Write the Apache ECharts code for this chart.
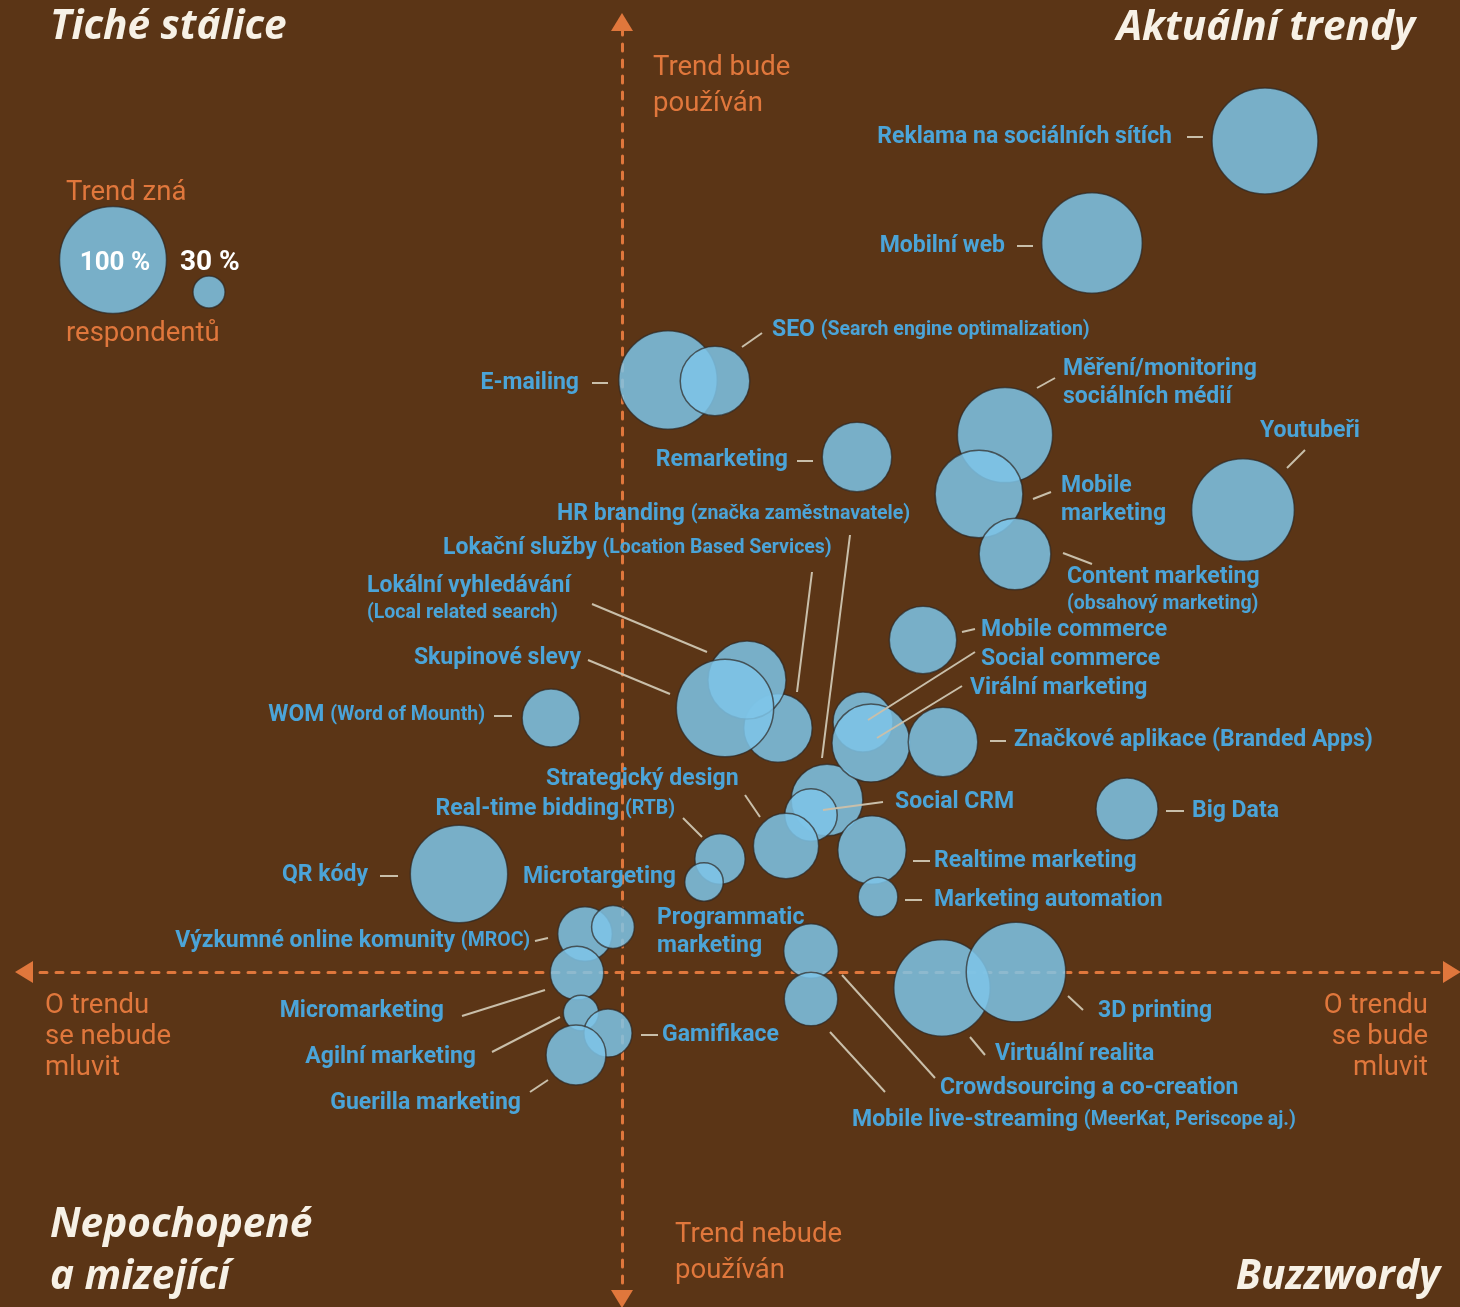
<!DOCTYPE html>
<html><head><meta charset="utf-8">
<script src="https://cdn.jsdelivr.net/npm/echarts@6/dist/echarts.min.js"></script>
<style>html,body{margin:0;padding:0;background:#5b3516;}#c{width:1460px;height:1307px;}</style>
</head><body><div id="c"></div>
<script>
// ---- DATA ----
const trends = ['Reklama na sociálních sítích','Mobilní web','E-mailing','SEO','Remarketing','Měření/monitoring sociálních médií','Mobile marketing','Content marketing','Youtubeři','HR branding','Lokační služby','Lokální vyhledávání','Skupinové slevy','WOM','Mobile commerce','Social commerce','Virální marketing','Značkové aplikace','Big Data','Social CRM','Strategický design','Real-time bidding','Microtargeting','Realtime marketing','Marketing automation','QR kódy','Výzkumné online komunity','Programmatic marketing','Micromarketing','Agilní marketing','Gamifikace','Guerilla marketing','Crowdsourcing a co-creation','Mobile live-streaming','Virtuální realita','3D printing'];
// x: how much the trend will be talked about (0 = neutral)
const buzz  = [64.3,47.0,4.6,9.3,23.5,38.3,35.7,39.3,62.1,20.5,15.6,12.5,10.3,-7.1,30.1,24.1,24.9,32.1,50.5,18.9,16.4,9.8,8.2,25.0,25.6,-16.3,-3.7,-0.9,-4.5,-4.1,-1.4,-4.6,18.9,18.9,32.0,39.4];
// y: how much the trend will be used (0 = neutral)
const usage = [83.1,72.9,59.2,59.1,51.5,53.7,47.8,41.8,46.2,17.2,24.4,29.2,26.4,25.4,33.2,25.0,22.9,23.0,16.3,15.7,12.6,11.3,9.0,12.2,7.5,9.8,3.8,4.5,-0.1,-4.1,-6.1,-8.3,2.1,-2.7,-1.6,0.0];
// % of respondents who know the trend
const awareness = [99,94,92,65,65,89,82,67,96,67,64,73,91,54,63,56,73,65,58,49,61,47,36,64,37,91,51,40,50,33,45,56,51,50,90,93];
const legendValues = [100, 30];
const labelText = [
 'Reklama na sociálních sítích','Mobilní web','E-mailing','SEO {s|(Search engine optimalization)}','Remarketing',
 'Měření/monitoring\nsociálních médií','Mobile\nmarketing','Content marketing\n{s|(obsahový marketing)}','Youtubeři',
 'HR branding {s|(značka zaměstnavatele)}','Lokační služby {s|(Location Based Services)}','Lokální vyhledávání\n{s|(Local related search)}',
 'Skupinové slevy','WOM {s|(Word of Mounth)}','Mobile commerce','Social commerce','Virální marketing','Značkové aplikace (Branded Apps)',
 'Big Data','Social CRM','Strategický design','Real-time bidding {s|(RTB)}','Microtargeting','Realtime marketing','Marketing automation',
 'QR kódy','Výzkumné online komunity {s|(MROC)}','Programmatic\nmarketing','Micromarketing','Agilní marketing','Gamifikace',
 'Guerilla marketing','Crowdsourcing a co-creation','Mobile live-streaming {s|(MeerKat, Periscope aj.)}','Virtuální realita','3D printing'];

// ---- label placement (pixel offsets from bubble centre: align, dx, dy, leader line) ----
const labelPlacement = [
 ['right',-93,-4,[-78,-4,-62,-4]],
 ['right',-87,3,[-75,3,-59,3]],
 ['right',-89,3,[-76,3,-60,3]],
 ['left',57,-51,[27,-34,47,-48]],
 ['right',-69,3,[-60,4,-44,4]],
 ['left',58,-52,[32,-47,50,-57]],
 ['left',82,6,[54,5,72,-2]],
 ['left',52,36,[48,-1,77,10]],
 ['left',17,-79,[44,-42,62,-60]],
 ['left',-270,-286,[23,-265,-5,-42]],
 ['left',-335,-180,[34,-156,19,-36]],
 ['left',-380,-81,[-155,-76,-40,-28]],
 ['right',-144,-50,[-137,-48,-55,-14]],
 ['right',-66,-3,[-57,-2,-39,-2]],
 ['left',58,-10,[39,-8,52,-11]],
 ['left',118,-63,[5,-2,112,-70]],
 ['left',99,-55,[6,-5,91,-57]],
 ['left',71,-2,[47,-1,63,-1]],
 ['left',65,2,[39,2,57,2]],
 ['left',84,-13,[12,-5,72,-13]],
 ['left',-240,-67,[-41,-51,-26,-29]],
 ['right',-45,-50,[-37,-41,-18,-22]],
 ['right',-28,-5,null],
 ['left',62,11,[41,11,58,11]],
 ['left',56,3,[27,3,44,3]],
 ['right',-91,1,[-79,2,-61,2]],
 ['right',-55,7,[-50,7,-37,4]],
 ['left',44,5,null],
 ['right',-133,38,[-115,43,-32,17]],
 ['right',-105,44,[-89,39,-21,4]],
 ['left',54,2,[33,2,50,2]],
 ['right',-55,48,[-46,37,-28,25]],
 ['left',129,137,[31,24,124,127]],
 ['left',41,121,[19,33,74,93]],
 ['left',53,66,[28,49,43,67]],
 ['left',82,39,[52,24,67,38]]
];

const BG = '#5b3516', BLUE_TXT = '#4ba4d8', ORANGE = '#e0773c', LEADER = '#c9bfaa';
const BUBBLE = 'rgba(126,196,232,0.85)', BORDER = 'rgba(45,40,35,0.7)';
const SIZE_K = 1.07;
const FONT = 'Roboto';

const chart = echarts.init(document.getElementById('c'));
const pts = trends.map((n,i)=>[buzz[i], usage[i], awareness[i], n]);
const axisStyle = {show:true, onZero:true, symbol:['triangle','triangle'], symbolSize:[22,18],
  lineStyle:{color:ORANGE, width:3, type:[7,9]}};

function txt(text, x, y, opt){
  return Object.assign({type:'text', x:x, y:y, z:10, style:Object.assign({text:text, fill:ORANGE, fontFamily:FONT, fontSize:27.5, verticalAlign:'middle', align:'left', lineHeight:33}, opt||{})});
}
const title = {fill:'#f7f1e6', fontSize:40.5, fontWeight:'bold', fontStyle:'italic', fontFamily:'Open Sans', lineHeight:52};

chart.setOption({
  backgroundColor: BG,
  animation:false,
  grid:{left:24, right:8, top:22, bottom:8},
  xAxis:{type:'value', min:-59.8, max:83.0, axisLine:axisStyle, axisTick:{show:false}, axisLabel:{show:false}, splitLine:{show:false}},
  yAxis:{type:'value', min:-32.7, max:95.0, axisLine:axisStyle, axisTick:{show:false}, axisLabel:{show:false}, splitLine:{show:false}},
  series:[
    {type:'scatter', data:pts, z:2,
     symbolSize:v=>v[2]*SIZE_K,
     itemStyle:{color:BUBBLE, borderColor:BORDER, borderWidth:1.5, opacity:1}},
    {type:'custom', data:pts, z:3, clip:false, silent:true,
     renderItem:function(params, api){
       const i = params.dataIndex;
       const c = api.coord([api.value(0), api.value(1)]);
       const p = labelPlacement[i];
       const ch = [];
       if(p[3]) ch.push({type:'line', shape:{x1:c[0]+p[3][0], y1:c[1]+p[3][1], x2:c[0]+p[3][2], y2:c[1]+p[3][3]}, style:{stroke:LEADER, lineWidth:2}});
       ch.push({type:'text', x:c[0]+p[1], y:c[1]+p[2], style:{text:labelText[i], fill:BLUE_TXT, fontFamily:FONT, fontWeight:'bold', fontSize:23, align:p[0], verticalAlign:'middle', lineHeight:28,
         rich:{s:{fill:BLUE_TXT, fontFamily:FONT, fontWeight:'bold', fontSize:19.5, lineHeight:25}}}});
       return {type:'group', children:ch};
     }}
  ],
  graphic:[
    txt('Tiché stálice', 50, 27, title),
    txt('Aktuální trendy', 1415, 28, Object.assign({}, title, {align:'right'})),
    txt('Nepochopené\na mizející', 50, 1251, title),
    txt('Buzzwordy', 1440, 1277, Object.assign({}, title, {align:'right'})),
    txt('Trend bude\npoužíván', 653, 86, {lineHeight:36}),
    txt('Trend nebude\npoužíván', 675, 1253, {lineHeight:36}),
    txt('O trendu\nse nebude\nmluvit', 45, 1037, {lineHeight:31}),
    txt('O trendu\nse bude\nmluvit', 1428, 1037, {lineHeight:31, align:'right'}),
    txt('Trend zná', 66, 193),
    txt('respondentů', 66, 334),
    {type:'circle', shape:{cx:113, cy:260, r:legendValues[0]*SIZE_K/2}, style:{fill:BUBBLE, stroke:BORDER, lineWidth:1.5}, z:5},
    {type:'circle', shape:{cx:209, cy:292, r:legendValues[1]*SIZE_K/2}, style:{fill:BUBBLE, stroke:BORDER, lineWidth:1.5}, z:5},
    txt(legendValues[0]+' %', 115, 263, {fill:'#ffffff', fontWeight:'bold', align:'center', fontSize:26}),
    txt(legendValues[1]+' %', 180, 263, {fill:'#ffffff', fontWeight:'bold', fontSize:28})
  ]
});
</script></body></html>
